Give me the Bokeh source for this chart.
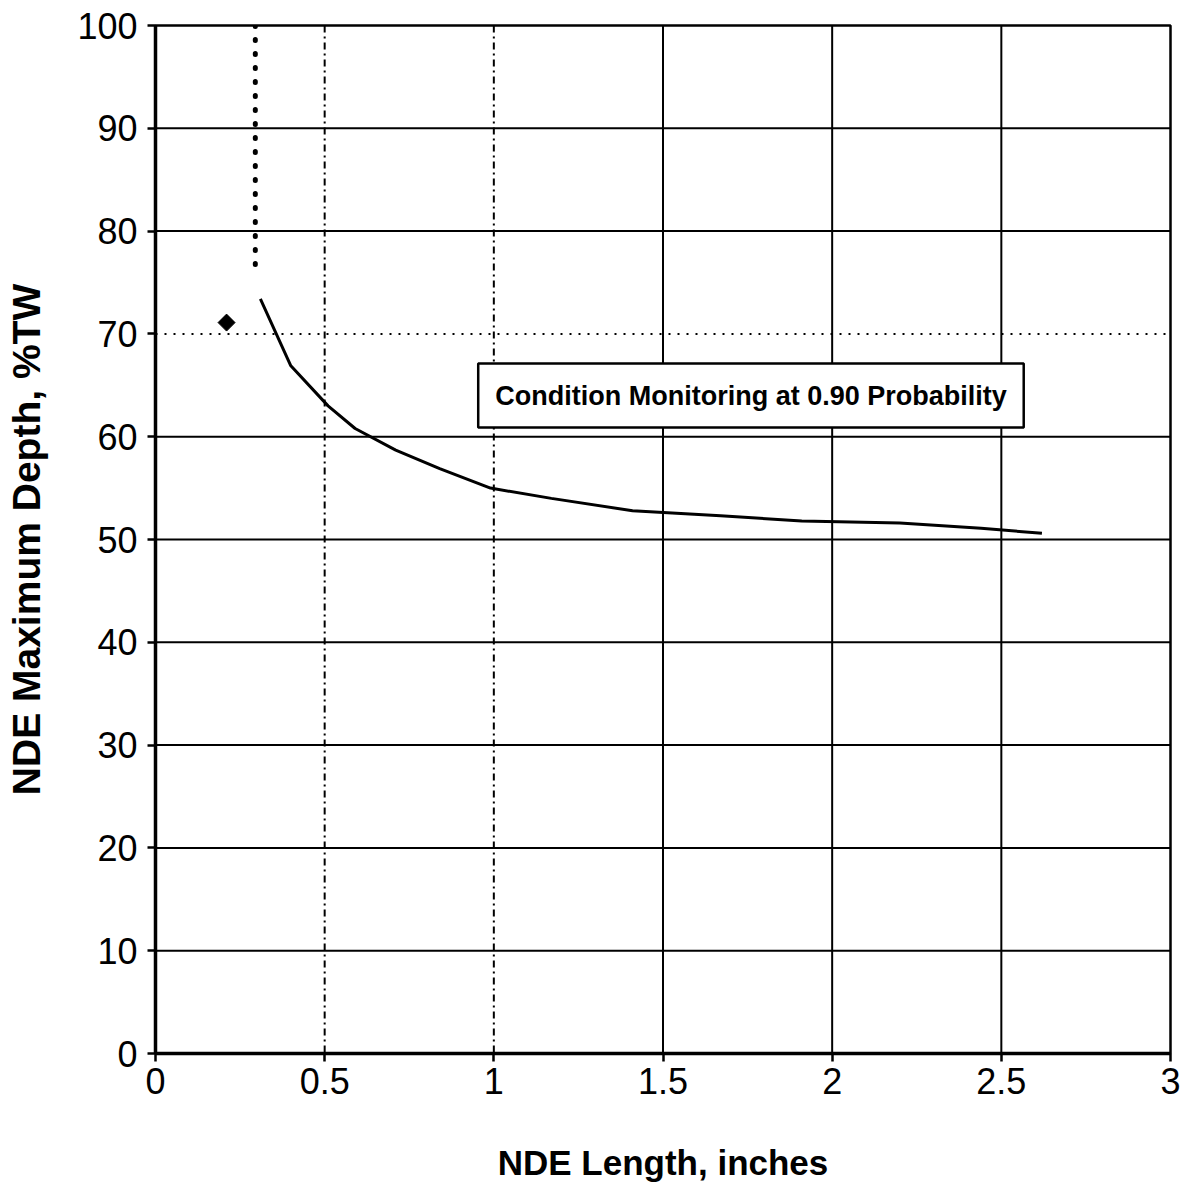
from bokeh.plotting import figure
from bokeh.models import Span, Label, FixedTicker, Range1d
from bokeh.embed import file_html
from bokeh.resources import INLINE

# data
curve_x = [0.31, 0.40, 0.51, 0.59, 0.71, 0.84, 0.99, 1.17, 1.41, 1.67, 1.91, 2.20, 2.44, 2.62]
curve_y = [73.4, 66.9, 63.0, 60.8, 58.7, 56.9, 55.0, 54.0, 52.8, 52.3, 51.8, 51.6, 51.1, 50.6]
point_x = [0.21]
point_y = [71.1]
limit_x = [0.295, 0.295]
limit_y = [100, 75.7]
x_ticks = [0, 0.5, 1, 1.5, 2, 2.5, 3]
y_ticks = [0, 10, 20, 30, 40, 50, 60, 70, 80, 90, 100]
x_grid_dashdot = [0.5, 1.0]
x_grid_solid = [1.5, 2.0, 2.5]
y_grid_solid = [10, 20, 30, 40, 50, 60, 80, 90]
y_grid_dotted = [70]
box_text = "Condition Monitoring at 0.90 Probability"

FONT = "Liberation Sans"

p = figure(frame_width=1015, frame_height=1028, output_backend="svg", toolbar_location=None,
           x_range=Range1d(0, 3), y_range=Range1d(0, 100),
           min_border_left=155, min_border_top=25, min_border_right=13, min_border_bottom=130)
p.background_fill_color = "white"
p.border_fill_color = "white"
p.outline_line_color = "black"
p.outline_line_width = 2.5
p.xgrid.visible = False
p.ygrid.visible = False

for v in x_grid_dashdot:
    p.add_layout(Span(location=v, dimension="height", line_color="black", line_width=2, line_dash="7 4 2 4"))
for v in x_grid_solid:
    p.add_layout(Span(location=v, dimension="height", line_color="black", line_width=2))
for v in y_grid_solid:
    p.add_layout(Span(location=v, dimension="width", line_color="black", line_width=2))
for v in y_grid_dotted:
    p.add_layout(Span(location=v, dimension="width", line_color="black", line_width=2, line_dash="2 7"))

p.line(limit_x, limit_y, line_color="black", line_width=5, line_dash="1 13", line_cap="round")
p.line(curve_x, curve_y, line_color="black", line_width=3)
p.scatter(point_x, point_y, marker="square", angle=0.785398, size=12, color="black")

lab = Label(x=1.76, y=64.0, text=box_text, text_align="center", text_baseline="middle",
            text_font=FONT, text_font_style="bold", text_font_size="27px", text_color="black",
            border_line_color="black", border_line_width=2.5, background_fill_color="white",
            padding=17)
p.add_layout(lab)

p.xaxis.ticker = FixedTicker(ticks=x_ticks)
p.yaxis.ticker = FixedTicker(ticks=y_ticks)
for ax in (p.xaxis[0], p.yaxis[0]):
    ax.axis_line_color = "black"
    ax.axis_line_width = 3.5
    ax.major_tick_line_color = "black"
    ax.major_tick_line_width = 2.5
    ax.major_tick_out = 8
    ax.major_tick_in = 0
    ax.minor_tick_line_color = None
    ax.major_label_text_font = FONT
    ax.major_label_text_font_size = "36px"
    ax.major_label_text_color = "black"
    ax.axis_label_text_font = FONT
    ax.axis_label_text_font_style = "bold"
    ax.axis_label_text_color = "black"
p.xaxis.axis_label_text_font_size = "35px"
p.yaxis.axis_label_text_font_size = "39px"
p.xaxis.major_label_standoff = 6
p.yaxis.major_label_standoff = 10
p.xaxis.axis_label = "NDE Length, inches"
p.yaxis.axis_label = "NDE Maximum Depth, %TW"
p.xaxis.axis_label_standoff = 46
p.yaxis.axis_label_standoff = 26

open("out.html", "w").write(file_html(p, INLINE))
